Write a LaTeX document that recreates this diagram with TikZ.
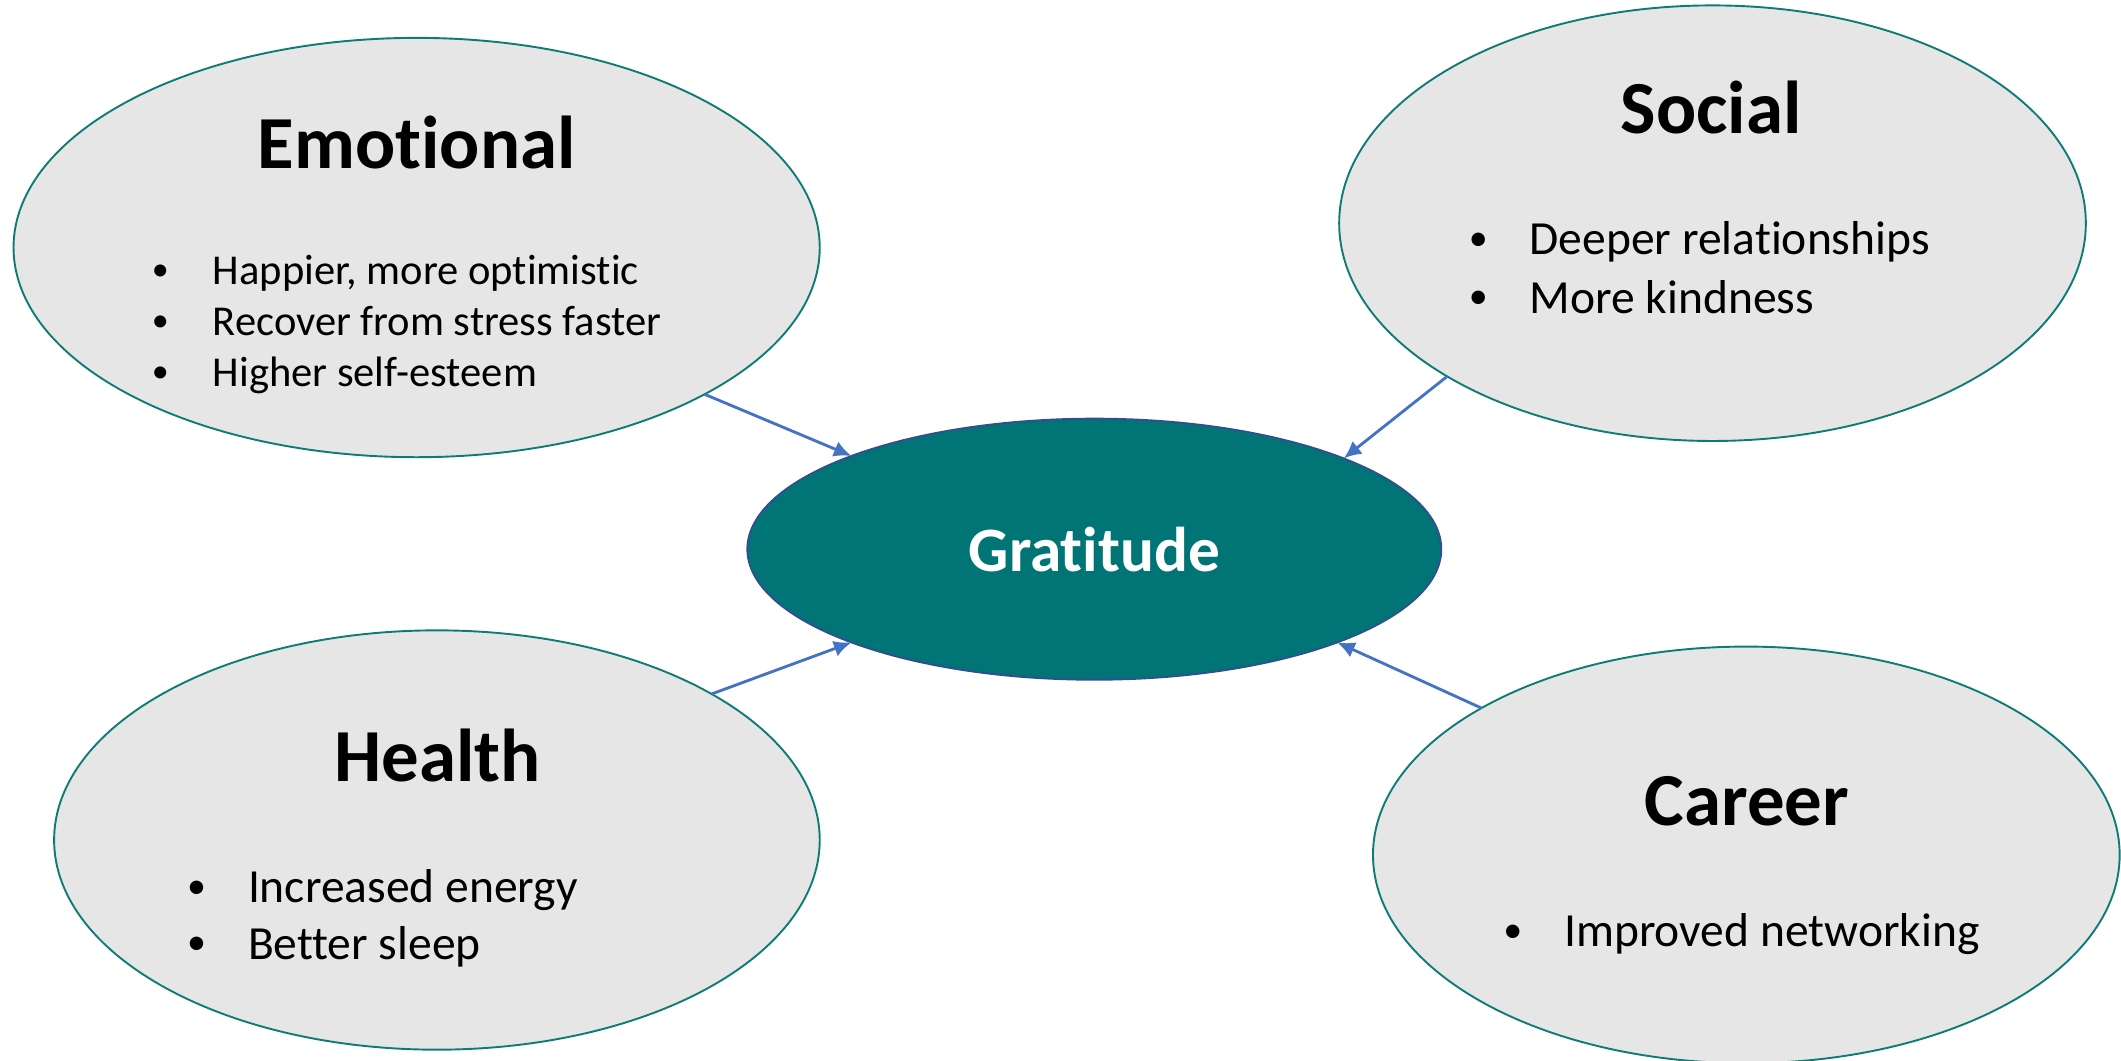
\documentclass[tikz,border=0pt]{standalone}
\usepackage{fontspec}
\setmainfont{Carlito}[Ligatures={NoCommon,NoRequired,NoContextual}]
\usepackage{tikz}
\usetikzlibrary{
    arrows.meta,
    shapes.geometric,
    positioning
}
\definecolor{tealdark}{HTML}{017575}
\definecolor{tealline}{HTML}{0E7B77}
\definecolor{areagray}{HTML}{E6E6E6}
\definecolor{arrowblue}{HTML}{4472C4}
\definecolor{coreline}{HTML}{2F4F8F}
\newcommand{\bulletpt}{\makebox[0.9cm][l]{\raisebox{0.1em}{\scalebox{0.8}{\textbullet}}}}

\tikzset{
    area/.style={ellipse, draw=tealline, fill=areagray, line width=0.8pt, inner sep=0pt, outer sep=0pt},
    core/.style={ellipse, draw=coreline, fill=tealdark, line width=0.8pt, inner sep=0pt, outer sep=0pt,
        text=white, font=\fontsize{26.6}{30}\selectfont\bfseries},
    areatitle/.style={anchor=base, inner sep=0pt, font=\fontsize{31.5}{36}\selectfont\bfseries},
    point/.style={anchor=base west, inner sep=0pt, font=\fontsize{20}{24}\selectfont},
    smallpoint/.style={point, font=\fontsize{17.9}{21}\selectfont},
    link/.style={draw=arrowblue, line width=1.2pt, -{Latex[length=2.6mm, width=2.4mm]}}
}

\begin{document}
\begin{tikzpicture}
    \useasboundingbox (0, 0) rectangle (31.36, -15.68);

    % outer areas
    \node[area, minimum width=11.92cm, minimum height=6.2cm] (emotional) at (6.16, -3.66) {};
    \node[area, minimum width=11.04cm, minimum height=6.44cm] (social) at (25.32, -3.30) {};
    \node[area, minimum width=11.32cm, minimum height=6.2cm] (health) at (6.46, -12.42) {};
    \node[area, minimum width=11.04cm, minimum height=6.16cm] (career) at (25.82, -12.64) {};

    % centre
    \node[core, minimum width=10.26cm, minimum height=3.86cm] (gratitude) at (16.18, -8.12) {Gratitude};

    % titles
    \node[areatitle] (emotionaltitle) at (6.16, -2.49) {Emotional};
    \node[areatitle] (socialtitle) at (25.30, -1.97) {Social};
    \node[areatitle] (healthtitle) at (6.47, -11.55) {Health};
    \node[areatitle] (careertitle) at (25.83, -12.20) {Career};

    % bullet points
    \node[smallpoint] (emo1) at (2.24, -4.21) {\bulletpt Happier, more optimistic};
    \node[smallpoint] (emo2) at (2.24, -4.965) {\bulletpt Recover from stress faster};
    \node[smallpoint] (emo3) at (2.24, -5.72) {\bulletpt Higher self-esteem};

    \node[point] (soc1) at (21.71, -3.77) {\bulletpt Deeper relationships};
    \node[point] (soc2) at (21.71, -4.63) {\bulletpt More kindness};

    \node[point] (hea1) at (2.76, -13.35) {\bulletpt Increased energy};
    \node[point] (hea2) at (2.76, -14.19) {\bulletpt Better sleep};

    \node[point] (car1) at (22.22, -14.00) {\bulletpt Improved networking};

    % links into the centre
    \draw[link] (emotional.-27.5) -- (gratitude.159.4);
    \draw[link] (social.210.2) -- (gratitude.20.8);
    \draw[link] (health.28.4) -- (gratitude.201.1);
    \draw[link] (career.151.1) -- (gratitude.-21);
\end{tikzpicture}
\end{document}
